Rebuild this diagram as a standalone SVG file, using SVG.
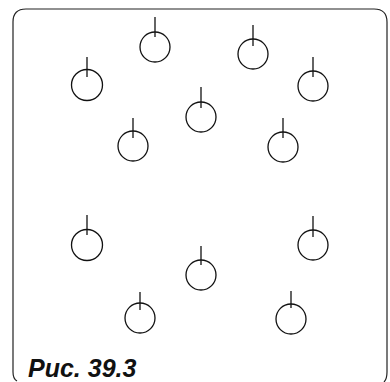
<svg xmlns="http://www.w3.org/2000/svg" width="390" height="382" viewBox="0 0 390 382">
<style>
.frame{fill:none;stroke:#222;stroke-width:1.2}
.pin circle{fill:none;stroke:#111;stroke-width:1.3}
.pin line{stroke:#111;stroke-width:1.3}
.cap{font-family:"Liberation Sans",Arial,sans-serif;font-style:italic;font-weight:bold;font-size:25px;fill:#111}
</style>
<rect width="390" height="382" fill="#fff"/>
<path class="frame" d="M17 381 Q13 379 13 372 L13 22 Q13 9 26 9 L374 9 Q387 9 387 22 L387 372 Q387 379 384 382"/>
<g id="pin1" class="pin"><circle cx="155" cy="47" r="15"/><line x1="155" y1="17" x2="155" y2="37"/></g>
<g id="pin2" class="pin"><circle cx="253" cy="54" r="15"/><line x1="253" y1="25" x2="253" y2="46"/></g>
<g id="pin3" class="pin"><circle cx="87" cy="85" r="15.5"/><line x1="87" y1="57" x2="87" y2="77"/></g>
<g id="pin4" class="pin"><circle cx="313" cy="86" r="15"/><line x1="313" y1="57" x2="313" y2="77"/></g>
<g id="pin5" class="pin"><circle cx="201" cy="117" r="15"/><line x1="201" y1="87" x2="201" y2="108"/></g>
<g id="pin6" class="pin"><circle cx="133" cy="146" r="15"/><line x1="133" y1="118" x2="133" y2="138"/></g>
<g id="pin7" class="pin"><circle cx="283" cy="147" r="15"/><line x1="283" y1="118" x2="283" y2="138"/></g>
<g id="pin8" class="pin"><circle cx="87" cy="245" r="15.5"/><line x1="87" y1="215" x2="87" y2="235"/></g>
<g id="pin9" class="pin"><circle cx="313" cy="245" r="15"/><line x1="313" y1="216" x2="313" y2="237"/></g>
<g id="pin10" class="pin"><circle cx="201" cy="275" r="15"/><line x1="201" y1="246" x2="201" y2="265"/></g>
<g id="pin11" class="pin"><circle cx="140" cy="318" r="15"/><line x1="140" y1="292" x2="140" y2="310"/></g>
<g id="pin12" class="pin"><circle cx="291" cy="319" r="15"/><line x1="291" y1="291" x2="291" y2="308"/></g>
<text class="cap" x="28" y="377">Рис. 39.3</text>
</svg>
